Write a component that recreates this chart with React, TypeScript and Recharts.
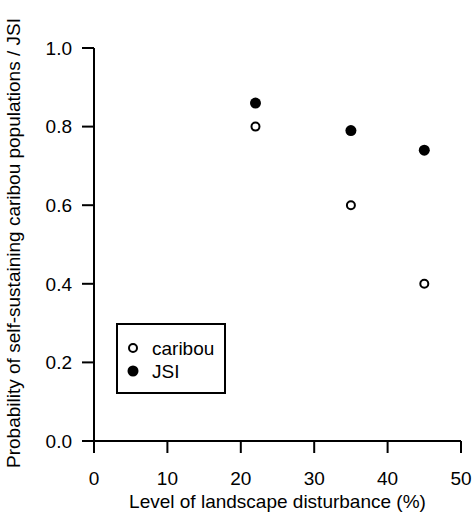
import React from "react";
import { ScatterChart, Scatter, XAxis, YAxis, Legend } from "recharts";

const disturbance = [22, 35, 45];
const caribou = [0.8, 0.6, 0.4];
const jsi = [0.86, 0.79, 0.74];
const xTicks = [0, 10, 20, 30, 40, 50];
const yTicks = [0, 0.2, 0.4, 0.6, 0.8, 1.0];
const seriesNames = ["caribou", "JSI"];
const xTitle = "Level of landscape disturbance (%)";
const yTitle = "Probability of self-sustaining caribou populations / JSI";

const caribouData = disturbance.map((x, i) => ({ x, y: caribou[i] }));
const jsiData = disturbance.map((x, i) => ({ x, y: jsi[i] }));

const FONT = '"Liberation Sans", Arial, Helvetica, sans-serif';

const OpenDot = (props: any) => {
  const { cx, cy } = props;
  if (cx == null || cy == null) return null;
  return <circle cx={cx} cy={cy} r={4} fill="#fff" stroke="#000" strokeWidth={2} />;
};

const FilledDot = (props: any) => {
  const { cx, cy } = props;
  if (cx == null || cy == null) return null;
  return <circle cx={cx} cy={cy} r={5.5} fill="#000" stroke="none" />;
};

const LegendBox = () => (
  <div style={{ width: 110, height: 71, border: "2px solid #000", boxSizing: "border-box", background: "#fff" }}>
    <svg width={106} height={67} style={{ display: "block" }}>
      <circle cx={15} cy={23} r={4} fill="#fff" stroke="#000" strokeWidth={2} />
      <text x={34} y={23} dy="0.35em" fontSize={19} fontFamily={FONT} fill="#000">{seriesNames[0]}</text>
      <circle cx={15} cy={46} r={5.5} fill="#000" />
      <text x={34} y={46} dy="0.35em" fontSize={19} fontFamily={FONT} fill="#000">{seriesNames[1]}</text>
    </svg>
  </div>
);

const YTitle = () => {
  const cy = 243;
  const cx = 20;
  return (
    <text x={cx} y={cy} transform={`rotate(-90 ${cx} ${cy})`} textAnchor="middle" fontSize={19} fontFamily={FONT} fill="#000">
      {yTitle}
    </text>
  );
};

const XTitle = (props: any) => {
  const vb = props.viewBox || { x: 94, width: 367 };
  const cx = vb.x + vb.width / 2;
  return (
    <text x={cx} y={507.5} textAnchor="middle" fontSize={19} fontFamily={FONT} fill="#000">
      {xTitle}
    </text>
  );
};

export default function App() {
  return (
    <div style={{ position: "absolute", left: 0, top: 0, width: 472, height: 512, background: "#fff" }}>
      <ScatterChart width={472} height={512} margin={{ top: 48, right: 11, bottom: 21, left: 34 }}>
        <XAxis
          type="number"
          dataKey="x"
          domain={[0, 50]}
          ticks={xTicks}
          allowDataOverflow
          height={50}
          stroke="#000"
          strokeWidth={2}
          tickSize={12}
          tickMargin={19}
          tick={{ fill: "#000", fontSize: 19, fontFamily: FONT }}
          tickLine={{ stroke: "#000", strokeWidth: 2 }}
          label={<XTitle />}
        />
        <YAxis
          type="number"
          dataKey="y"
          domain={[0, 1]}
          ticks={yTicks}
          allowDataOverflow
          width={60}
          stroke="#000"
          strokeWidth={2}
          tickSize={12}
          tickMargin={10}
          tickFormatter={(v: number) => v.toFixed(1)}
          tick={{ fill: "#000", fontSize: 19, fontFamily: FONT }}
          tickLine={{ stroke: "#000", strokeWidth: 2 }}
          label={<YTitle />}
        />
        <Legend
          layout="vertical"
          align="center"
          verticalAlign="middle"
          content={<LegendBox />}
          wrapperStyle={{ position: "absolute", left: 116, top: 323, width: 110, height: 71 }}
        />
        <Scatter name={seriesNames[0]} data={caribouData} shape={<OpenDot />} isAnimationActive={false} />
        <Scatter name={seriesNames[1]} data={jsiData} shape={<FilledDot />} isAnimationActive={false} />
      </ScatterChart>
    </div>
  );
}
